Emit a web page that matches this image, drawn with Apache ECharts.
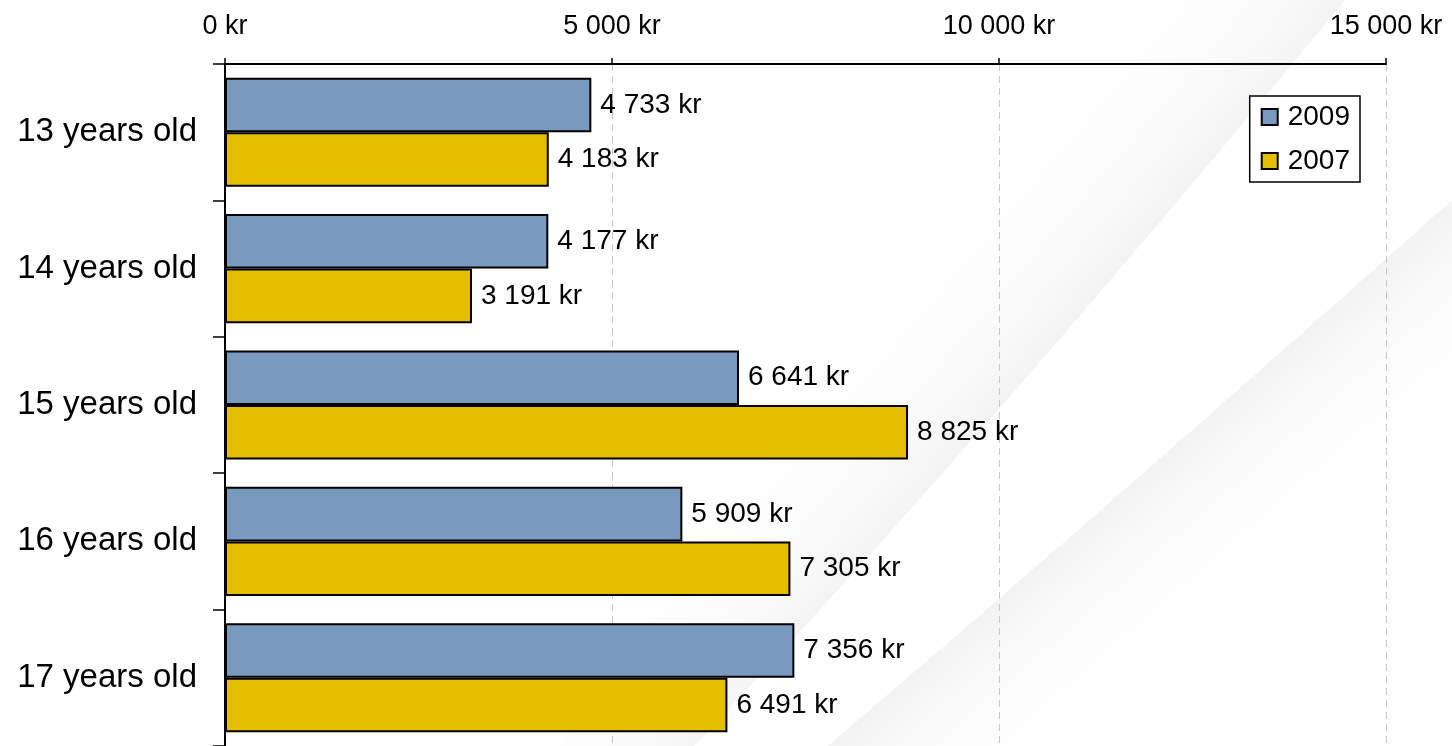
<!DOCTYPE html>
<html>
<head>
<meta charset="utf-8">
<title>Pocket money by age</title>
<script src="https://cdn.jsdelivr.net/npm/echarts@6/dist/echarts.min.js"></script>
<style>
  html, body { margin: 0; padding: 0; background: #fff; }
  #chart { width: 1452px; height: 746px; }
</style>
</head>
<body>
<div id="chart"></div>
<script>
// categories, top to bottom
const ages = ['13 years old', '14 years old', '15 years old', '16 years old', '17 years old']
// series values (kr)
const values2009 = [4733, 4177, 6641, 5909, 7356]
const values2007 = [4183, 3191, 8825, 7305, 6491]
// x axis ticks
const axisMin = 0
const axisMax = 15000
const axisStep = 5000

const font = 'Liberation Sans, Arial, sans-serif'

// 5000 -> "5 000 kr"
function kr(v) {
    return String(v).replace(/\B(?=(\d{3})+(?!\d))/g, ' ') + ' kr'
}

// points along a quadratic curve, for the background decoration
function curve(p0, c, p1, n) {
    const pts = []
    for (let i = 0; i <= n; i++) {
        const t = i / n, u = 1 - t
        pts.push([
            u * u * p0[0] + 2 * u * t * c[0] + t * t * p1[0],
            u * u * p0[1] + 2 * u * t * c[1] + t * t * p1[1]
        ])
    }
    return pts
}

const chart = echarts.init(document.getElementById('chart'))

// faint background swooshes
const swooshes = [
    {
        type: 'polygon',
        z: -10,
        silent: true,
        shape: {
            points: curve([694, 746], [1000, 420], [1345, 0], 30)
                .concat(curve([1060, 0], [800, 380], [560, 746], 30))
        },
        style: {
            fill: new echarts.graphic.LinearGradient(1020, 400, 880, 280, [
                { offset: 0, color: '#f2f2f2' },
                { offset: 1, color: 'rgba(255,255,255,0)' }
            ], true)
        }
    },
    {
        type: 'polygon',
        z: -10,
        silent: true,
        shape: {
            points: curve([828, 746], [1150, 470], [1452, 200], 30)
                .concat([[1452, 746]])
        },
        style: {
            fill: new echarts.graphic.LinearGradient(1140, 480, 1240, 595, [
                { offset: 0, color: '#f3f3f3' },
                { offset: 1, color: 'rgba(255,255,255,0)' }
            ], true)
        }
    }
]

const barLabel = {
    show: true,
    position: 'right',
    distance: 9,
    color: '#000',
    fontFamily: font,
    fontSize: 28,
    formatter: p => kr(p.value)
}

chart.setOption({
    backgroundColor: '#fff',
    animation: false,
    graphic: swooshes,
    grid: { left: 225, top: 64, width: 1161, height: 685 },
    legend: {
        orient: 'vertical',
        right: 92,
        top: 96,
        data: ['2009', '2007'],
        backgroundColor: '#fff',
        borderColor: '#000',
        borderWidth: 1.5,
        borderRadius: 0,
        padding: [7, 10, 7, 11],
        itemGap: 16,
        itemWidth: 16,
        itemHeight: 16,
        icon: 'rect',
        textStyle: { color: '#000', fontFamily: font, fontSize: 28, padding: [0, 0, 0, 5] }
    },
    xAxis: {
        type: 'value',
        position: 'top',
        min: axisMin,
        max: axisMax,
        interval: axisStep,
        axisLine: { show: true, lineStyle: { color: '#000', width: 2 } },
        axisTick: { show: true, length: 6, lineStyle: { color: '#000', width: 1.5 } },
        axisLabel: { color: '#000', fontFamily: font, fontSize: 27, margin: 24, formatter: kr },
        splitLine: { show: true, lineStyle: { color: '#c8c8c8', type: [7, 5], width: 1 } }
    },
    yAxis: {
        type: 'category',
        inverse: true,
        data: ages,
        axisLine: { show: true, lineStyle: { color: '#000', width: 2 } },
        axisTick: { show: true, length: 12, lineStyle: { color: '#000', width: 1.5 } },
        axisLabel: { color: '#000', fontFamily: font, fontSize: 33, margin: 28 }
    },
    series: [
        {
            name: '2009',
            type: 'bar',
            data: values2009,
            barGap: 0,
            barCategoryGap: '20%',
            itemStyle: { color: '#789abe', borderColor: '#000', borderWidth: 2 },
            label: barLabel
        },
        {
            name: '2007',
            type: 'bar',
            data: values2007,
            barGap: 0,
            barCategoryGap: '20%',
            itemStyle: { color: '#e6be00', borderColor: '#000', borderWidth: 2 },
            label: barLabel
        }
    ]
})
</script>
</body>
</html>
